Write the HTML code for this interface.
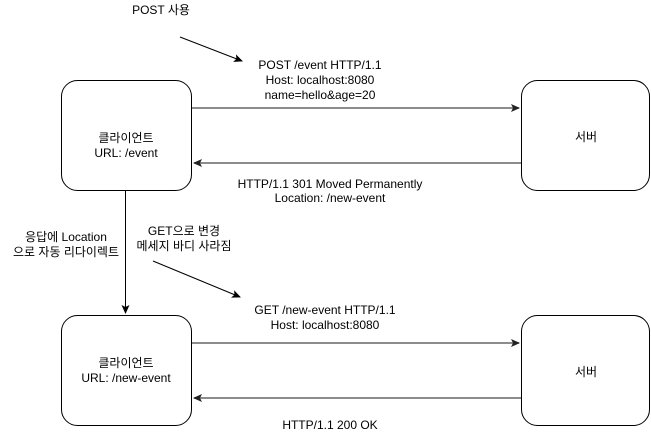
<!DOCTYPE html>
<html><head><style>
body{margin:0;background:#fff;}
svg text{font-family:"Liberation Sans","Noto Sans CJK KR",sans-serif;font-size:12px;fill:#000;text-anchor:middle;}
</style></head><body>
<svg width="651" height="436" viewBox="0 0 651 436" xmlns="http://www.w3.org/2000/svg">
<defs>
<marker id="a" markerWidth="10" markerHeight="10" refX="8" refY="5" orient="auto" markerUnits="userSpaceOnUse"><path d="M0,1 L9,5 L0,9 L2,5 Z" fill="#000"/></marker>
<marker id="g" markerWidth="10" markerHeight="10" refX="8" refY="5" orient="auto" markerUnits="userSpaceOnUse"><path d="M0,1 L9,5 L0,9 L2,5 Z" fill="#222"/></marker>
</defs>
<g fill="#fff" stroke="#000" stroke-width="1">
<rect x="61.5" y="80.5" width="130" height="110" rx="16"/>
<rect x="521.5" y="80.5" width="128" height="110" rx="16"/>
<rect x="61.5" y="315.5" width="130" height="110" rx="16"/>
<rect x="521.5" y="315.5" width="128" height="110" rx="16"/>
</g>
<g stroke="#666" stroke-width="1.5" fill="none">
<line x1="192" y1="108" x2="519" y2="108" marker-end="url(#g)"/>
<line x1="521" y1="163" x2="194" y2="163" marker-end="url(#g)"/>
<line x1="192" y1="343" x2="519" y2="343" marker-end="url(#g)"/>
<line x1="521" y1="398" x2="194" y2="398" marker-end="url(#g)"/>
</g>
<g stroke="#000" stroke-width="1" fill="none">
<line x1="125.5" y1="191" x2="125.5" y2="313" marker-end="url(#a)"/>
<line x1="180" y1="37" x2="242" y2="61" marker-end="url(#a)"/>
<line x1="153" y1="261" x2="240" y2="297" marker-end="url(#a)"/>
</g>
<text x="161" y="14">POST 사용</text>
<text x="320" y="69">POST /event HTTP/1.1</text>
<text x="320" y="84">Host: localhost:8080</text>
<text x="320" y="99">name=hello&amp;age=20</text>
<text x="126" y="142">클라이언트</text>
<text x="126" y="147" dy="10">URL: /event</text>
<text x="586" y="141">서버</text>
<text x="330" y="188">HTTP/1.1 301 Moved Permanently</text>
<text x="330" y="202">Location: /new-event</text>
<text x="66" y="241">응답에 Location</text>
<text x="66" y="256">으로 자동 리다이렉트</text>
<text x="184" y="235">GET으로 변경</text>
<text x="184" y="250">메세지 바디 사라짐</text>
<text x="325" y="314">GET /new-event HTTP/1.1</text>
<text x="325" y="329">Host: localhost:8080</text>
<text x="126" y="367">클라이언트</text>
<text x="126" y="382">URL: /new-event</text>
<text x="586" y="376">서버</text>
<text x="330" y="429">HTTP/1.1 200 OK</text>
</svg>
</body></html>
